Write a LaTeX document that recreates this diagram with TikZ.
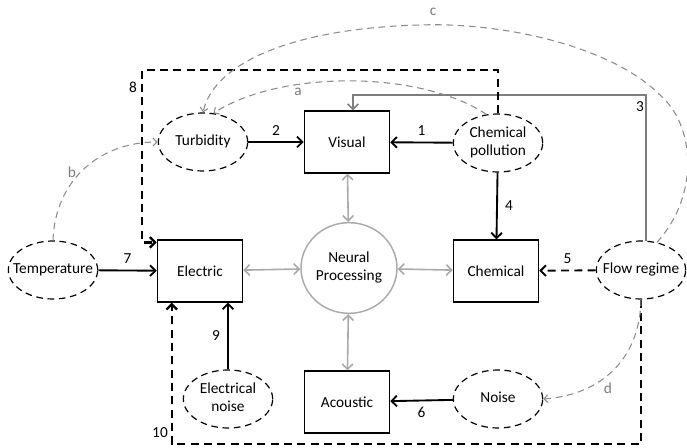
\documentclass[tikz,border=0pt]{standalone}
\usepackage{fontspec}
\setmainfont{Carlito}
\usetikzlibrary{arrows.meta,shapes.geometric,calc}

\definecolor{softgray}{RGB}{170,170,170}
\definecolor{midgray}{RGB}{125,125,125}
\definecolor{curvegray}{RGB}{140,140,140}

\newcommand{\flab}[1]{\makebox[0pt]{\begin{tabular}{@{}c@{}}#1\end{tabular}}}

\tikzset{
    factor/.style={ellipse, draw, line width=0.9pt, dash pattern=on 5pt off 3.5pt,
        minimum width=67pt, minimum height=43.5pt, inner sep=0pt},
    sense/.style={rectangle, draw, line width=0.9pt, minimum width=64pt, minimum height=46.5pt},
    brain/.style={ellipse, draw=softgray, line width=1.1pt, minimum width=72pt, minimum height=68pt,
        inner sep=0pt, align=center},
    link/.style={-{Straight Barb[length=4pt,width=8pt]}, line width=1.4pt},
    relay/.style={-{Straight Barb[length=4pt,width=8pt]}, line width=1.7pt, dash pattern=on 6pt off 4pt},
    flowline/.style={-{Straight Barb[length=4pt,width=8pt]}, draw=midgray, line width=1.2pt},
    mutual/.style={{Straight Barb[length=4pt,width=8pt]}-{Straight Barb[length=4pt,width=8pt]},
        draw=softgray, line width=1.2pt},
    infl/.style={-{Straight Barb[length=3pt,width=6pt]}, draw=curvegray, line width=0.8pt,
        dash pattern=on 5pt off 3.5pt},
    num/.style={font=\fontsize{11.5}{13.5}\selectfont},
    let/.style={font=\fontsize{11.5}{13.5}\selectfont, text=midgray}
}

\begin{document}
\begin{tikzpicture}[x=0.75pt, y=-0.75pt, font=\fontsize{11.5}{13.5}\selectfont]
    \useasboundingbox (0,0) rectangle (687,448);

    % senses
    \node[sense] (visual) at (347,142) {Visual};
    \node[sense] (electric) at (200,271) {Electric};
    \node[sense] (chemical) at (496,271) {Chemical};
    \node[sense] (acoustic) at (347,402) {Acoustic};
    \node[brain] (neural) at (349,268) {Neural\\Processing};

    % environmental factors
    \node[factor] (turbidity) at (203,142) {\flab{Turbidity}};
    \node[factor] (chempol) at (498,143) {\flab{Chemical\\pollution}};
    \node[factor] (temperature) at (53,270) {\flab{Temperature}};
    \node[factor] (flow) at (641,270) {\flab{Flow regime}};
    \node[factor] (elecnoise) at (228,399) {\flab{Electrical\\noise}};
    \node[factor] (noise) at (498,399) {\flab{Noise}};

    % gray links to the brain
    \foreach \sense in {visual,electric,chemical,acoustic}{
        \draw[mutual] (\sense) -- (neural);
    }

    % direct effects
    \draw[link] (chempol) -- (visual) node[num, midway, above=1pt] {1};
    \draw[link] (turbidity) -- (visual) node[num, midway, above=1pt] {2};
    \draw[link] (chempol) -- (chemical) node[num, midway, right=2pt] {4};
    \draw[link, dash pattern=on 6pt off 4pt] (flow) -- (chemical) node[num, midway, above=1pt] {5};
    \draw[link] (noise) -- (acoustic) node[num, midway, below=1pt] {6};
    \draw[link] (temperature) -- (electric) node[num, midway, above=1pt] {7};
    \draw[link] (elecnoise.north) -- (elecnoise.north |- electric.south) node[num, midway, left=2pt] {9};

    % flow regime to visual
    \coordinate (top3) at (0,95);
    \draw[flowline] (flow.80) -- (flow.80 |- top3) -| ($(visual.north)+(6,0)$);
    \node[num] (lab3) at (640,107) {3};

    % long dashed routes
    \coordinate (corner8) at (142,70);
    \draw[relay] (chempol.north) |- (corner8) |- ($(electric.north west)+(0,3)$);
    \node[num] (lab8) at (133,87) {8};
    \coordinate (bottom10) at (0,444);
    \draw[relay] (flow.south) -- (flow.south |- bottom10) -| ($(electric.south west)+(15,0)$);
    \node[num] (lab10) at (160,433) {10};

    % indirect influences
    \draw[infl] (chempol.112) .. controls (420,70) and (280,70) .. (turbidity.70);
    \node[let] (laba) at (298,92) {a};
    \draw[infl] (temperature.north) .. controls (55,180) and (100,142) .. (turbidity.west);
    \node[let] (labb) at (72,172) {b};
    \draw[infl] (flow.60) .. controls (700,195) and (695,125) .. (660,95)
        .. controls (610,45) and (500,22) .. (420,25)
        .. controls (300,28) and (215,60) .. (turbidity.north);
    \node[let] (labc) at (433,12) {c};
    \draw[infl] (flow.south) .. controls (640,360) and (600,395) .. (noise.east);
    \node[let] (labd) at (608,388) {d};
\end{tikzpicture}
\end{document}
